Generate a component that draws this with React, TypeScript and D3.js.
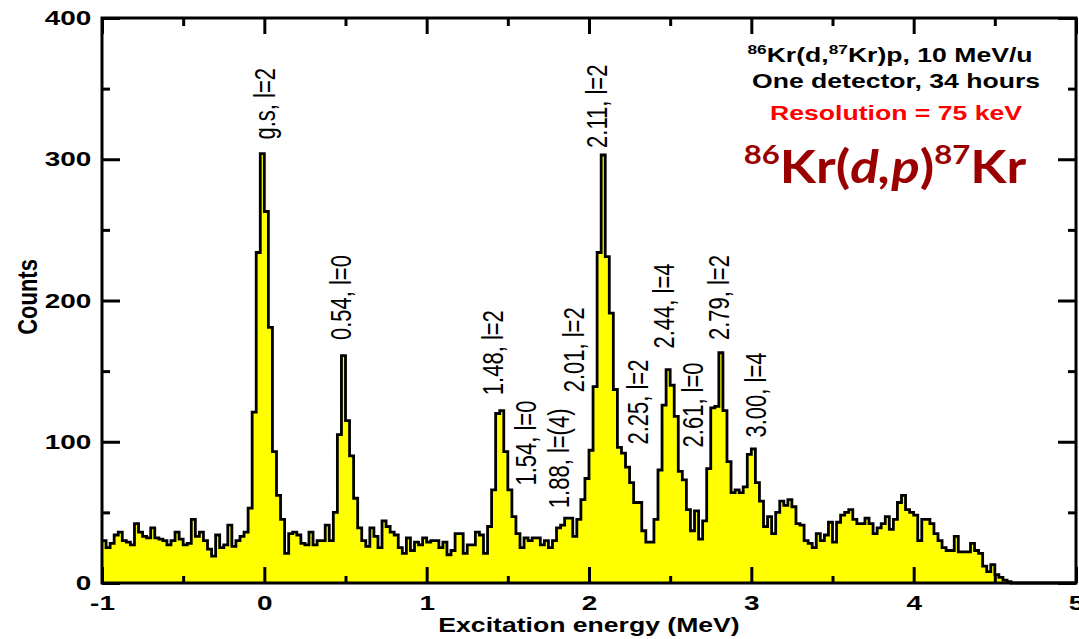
// @ts-nocheck
import { useEffect, useRef } from "react";
import * as d3 from "d3";

const W = 1079;
const H = 639;

// 86Kr(d,p) excitation spectrum, 25 keV bins starting at -1 MeV
const binStart = -1;
const binWidth = 0.025;
const counts = [
  // -1.0 .. -0.1
  30, 25, 28, 34, 36, 30, 29, 27, 42, 36, 33, 32, 39, 32, 31, 30, 27, 30, 36, 31,
  27, 28, 45, 33, 36, 30, 24, 19, 34, 25, 27, 41, 26, 30, 33, 36,
  // g.s.
  53, 121, 234, 304, 263, 181, 93, 62, 45, 21,
  // 0.15 .. 1.0 (0.54 peak)
  35, 36, 34, 28, 27, 36, 27, 30, 30, 41, 30, 50, 105, 161, 115, 90, 60, 39, 30, 26,
  39, 33, 25, 44, 40, 36, 34, 25, 21, 32, 23, 29, 27, 32,
  // 1.0 .. 1.2
  29, 30, 30, 25, 29, 20, 23, 35,
  // 1.2 .. 1.8 (1.48 peak)
  35, 21, 27, 27, 36, 34, 21, 40, 66, 120, 122, 93, 66, 47, 35, 25, 32, 30, 32, 32,
  27, 30, 25, 30,
  // 1.8 .. 2.3 (2.11 peak)
  39, 41, 46, 46, 33, 45, 59, 74, 94, 139, 234, 303, 231, 191, 137, 96, 92, 82, 71, 57,
  // 2.3 .. 3.0 (2.44, 2.61, 2.79 peaks)
  57, 37, 29, 29, 45, 80, 126, 151, 140, 118, 79, 73, 52, 37, 51, 31, 44, 81, 124, 125,
  163, 122, 86, 64, 66, 64, 68, 91,
  // 3.0 .. 4.6
  95, 71, 58, 40, 47, 35, 50, 58, 55, 59, 54, 42, 41, 30, 28, 25, 35, 30, 34, 43,
  29, 43, 48, 50, 52, 45, 42, 42, 46, 42, 35, 39, 42, 47, 38, 45, 57, 62, 52, 50,
  48, 30, 45, 45, 42, 35, 30, 25, 23, 23, 33, 22, 22, 22, 28, 23, 21, 12, 8, 13,
  6, 4, 2, 1,
];

const xTicks = [-1, 0, 1, 2, 3, 4, 5];
const xMinor = [-0.5, 0.5, 1.5, 2.5, 3.5, 4.5];
const yTicks = [0, 100, 200, 300, 400];
const yMinor = [50, 150, 250, 350];

// state labels: text, energy (MeV) and counts where the text starts
const peakLabels = [
  { text: "g.s, l=2", e: 0.0, c: 314 },
  { text: "0.54, l=0", e: 0.47, c: 172 },
  { text: "1.48, l=2", e: 1.405, c: 133 },
  { text: "1.54, l=0", e: 1.608, c: 69 },
  { text: "1.88, l=(4)", e: 1.811, c: 53 },
  { text: "2.01, l=2", e: 1.904, c: 135 },
  { text: "2.11, l=2", e: 2.046, c: 308 },
  { text: "2.25, l=2", e: 2.298, c: 98 },
  { text: "2.44, l=4", e: 2.458, c: 166 },
  { text: "2.61, l=0", e: 2.637, c: 96 },
  { text: "2.79, l=2", e: 2.797, c: 172 },
  { text: "3.00, l=4", e: 3.025, c: 103 },
];

const FONT = "'Liberation Sans', Arial, Helvetica, sans-serif";
const SX = 1.33; // the original figure is stretched horizontally

const App = () => {
  const ref = useRef();

  useEffect(() => {
    const svg = d3.select(ref.current);
    svg.selectAll("*").remove();

    const margin = { top: 18, right: 3, bottom: 56, left: 102 };
    const x = d3
      .scaleLinear()
      .domain([-1, 5])
      .range([margin.left, W - margin.right]);
    const y = d3
      .scaleLinear()
      .domain([0, 400])
      .range([H - margin.bottom, margin.top]);

    const pts = counts.map((c, i) => ({ e: binStart + i * binWidth, c }));
    pts.push({ e: binStart + counts.length * binWidth, c: 0 });
    pts.push({ e: 5, c: 0 });

    // histogram fill
    const area = d3
      .area()
      .x((d) => x(d.e))
      .y0(y(0))
      .y1((d) => y(d.c))
      .curve(d3.curveStepAfter);
    svg.append("path").datum(pts).attr("d", area).attr("fill", "#ffff00");

    const line = d3
      .line()
      .x((d) => x(d.e))
      .y((d) => y(d.c))
      .curve(d3.curveStepAfter);
    svg
      .append("path")
      .datum(pts)
      .attr("d", line)
      .attr("fill", "none")
      .attr("stroke", "#000")
      .attr("stroke-width", 2.8);

    // frame
    svg
      .append("rect")
      .attr("x", x(-1))
      .attr("y", y(400))
      .attr("width", x(5) - x(-1))
      .attr("height", y(0) - y(400))
      .attr("fill", "none")
      .attr("stroke", "#000")
      .attr("stroke-width", 3);

    const styleAxis = (g, sw) => {
      g.select(".domain").remove();
      g.selectAll("line").attr("stroke", "#000").attr("stroke-width", sw);
      g.selectAll("text")
        .attr("fill", "#000")
        .attr("font-size", 21)
        .attr("font-weight", "bold")
        .attr("font-family", FONT)
        .attr("transform", `scale(${SX},1)`);
    };
    const noLabel = () => "";

    // bottom
    svg
      .append("g")
      .attr("transform", `translate(0,${y(0)})`)
      .call(
        d3
          .axisBottom(x)
          .tickValues(xTicks)
          .tickSize(-16)
          .tickSizeOuter(0)
          .tickPadding(12)
          .tickFormat((d) => String(d))
      )
      .call((g) => styleAxis(g, 3));
    svg
      .append("g")
      .attr("transform", `translate(0,${y(0)})`)
      .call(d3.axisBottom(x).tickValues(xMinor).tickSize(-7).tickSizeOuter(0).tickFormat(noLabel))
      .call((g) => styleAxis(g, 3));
    // top
    svg
      .append("g")
      .attr("transform", `translate(0,${y(400)})`)
      .call(d3.axisTop(x).tickValues(xTicks).tickSize(-16).tickSizeOuter(0).tickFormat(noLabel))
      .call((g) => styleAxis(g, 3));
    svg
      .append("g")
      .attr("transform", `translate(0,${y(400)})`)
      .call(d3.axisTop(x).tickValues(xMinor).tickSize(-8).tickSizeOuter(0).tickFormat(noLabel))
      .call((g) => styleAxis(g, 3));
    // left
    svg
      .append("g")
      .attr("transform", `translate(${x(-1)},0)`)
      .call(
        d3
          .axisLeft(y)
          .tickValues(yTicks)
          .tickSize(-18)
          .tickSizeOuter(0)
          .tickPadding(8)
          .tickFormat((d) => String(d))
      )
      .call((g) => styleAxis(g, 3));
    svg
      .append("g")
      .attr("transform", `translate(${x(-1)},0)`)
      .call(d3.axisLeft(y).tickValues(yMinor).tickSize(-8).tickSizeOuter(0).tickFormat(noLabel))
      .call((g) => styleAxis(g, 3));
    // right
    svg
      .append("g")
      .attr("transform", `translate(${x(5)},0)`)
      .call(d3.axisRight(y).tickValues(yTicks).tickSize(-18).tickSizeOuter(0).tickFormat(noLabel))
      .call((g) => styleAxis(g, 3));
    svg
      .append("g")
      .attr("transform", `translate(${x(5)},0)`)
      .call(d3.axisRight(y).tickValues(yMinor).tickSize(-8).tickSizeOuter(0).tickFormat(noLabel))
      .call((g) => styleAxis(g, 3));

    // axis titles
    svg
      .append("text")
      .attr("transform", `translate(${(x(-1) + x(5)) / 2},632) scale(${SX},1)`)
      .attr("text-anchor", "middle")
      .attr("font-family", FONT)
      .attr("font-weight", "bold")
      .attr("font-size", 20)
      .text("Excitation energy (MeV)");
    svg
      .append("text")
      .attr("transform", `translate(37,297) scale(1.25,1) rotate(-90)`)
      .attr("text-anchor", "middle")
      .attr("font-family", FONT)
      .attr("font-weight", "bold")
      .attr("font-size", 22)
      .text("Counts");

    // state labels
    const lfs = 22;
    const lsx = 1.35;
    svg
      .append("g")
      .selectAll("text")
      .data(peakLabels)
      .join("text")
      .attr(
        "transform",
        (d) => `translate(${x(d.e) + 0.358 * lfs * lsx},${y(d.c)}) scale(${lsx},1) rotate(-90)`
      )
      .attr("font-family", FONT)
      .attr("font-size", lfs)
      .attr("fill", "#000")
      .text((d) => d.text);

    // info block
    const cx = 890;
    const t1 = svg
      .append("text")
      .attr("transform", `translate(${cx},62) scale(${SX},1)`)
      .attr("text-anchor", "middle")
      .attr("font-family", FONT)
      .attr("font-weight", "bold")
      .attr("font-size", 20);
    t1.append("tspan").attr("font-size", 13).attr("dy", -8).text("86");
    t1.append("tspan").attr("dy", 8).text("Kr(d,");
    t1.append("tspan").attr("font-size", 13).attr("dy", -8).text("87");
    t1.append("tspan").attr("dy", 8).text("Kr)p, 10 MeV/u");

    svg
      .append("text")
      .attr("transform", `translate(${cx + 6},88) scale(${SX},1)`)
      .attr("text-anchor", "middle")
      .attr("font-family", FONT)
      .attr("font-weight", "bold")
      .attr("font-size", 20)
      .text("One detector, 34 hours");

    svg
      .append("text")
      .attr("transform", `translate(${cx + 6},120) scale(${SX},1)`)
      .attr("text-anchor", "middle")
      .attr("font-family", FONT)
      .attr("font-weight", "bold")
      .attr("font-size", 20)
      .attr("fill", "#ff0000")
      .text("Resolution = 75 keV");

    const t4 = svg
      .append("text")
      .attr("transform", `translate(885,183) scale(1.15,1)`)
      .attr("text-anchor", "middle")
      .attr("font-family", "Lato, 'Open Sans', sans-serif")
      .attr("font-weight", "bold")
      .attr("font-size", 46)
      .attr("fill", "#9b0000");
    t4.append("tspan").attr("font-size", 27).attr("dy", -19).text("86");
    t4.append("tspan").attr("dy", 19).text("Kr(");
    t4.append("tspan").attr("font-style", "italic").text("d,p");
    t4.append("tspan").text(")");
    t4.append("tspan").attr("font-size", 27).attr("dy", -19).text("87");
    t4.append("tspan").attr("dy", 19).text("Kr");
  }, []);

  return (
    <svg
      ref={ref}
      width={W}
      height={H}
      style={{ position: "absolute", left: 0, top: 0, background: "#fff" }}
    />
  );
};

export default App;
